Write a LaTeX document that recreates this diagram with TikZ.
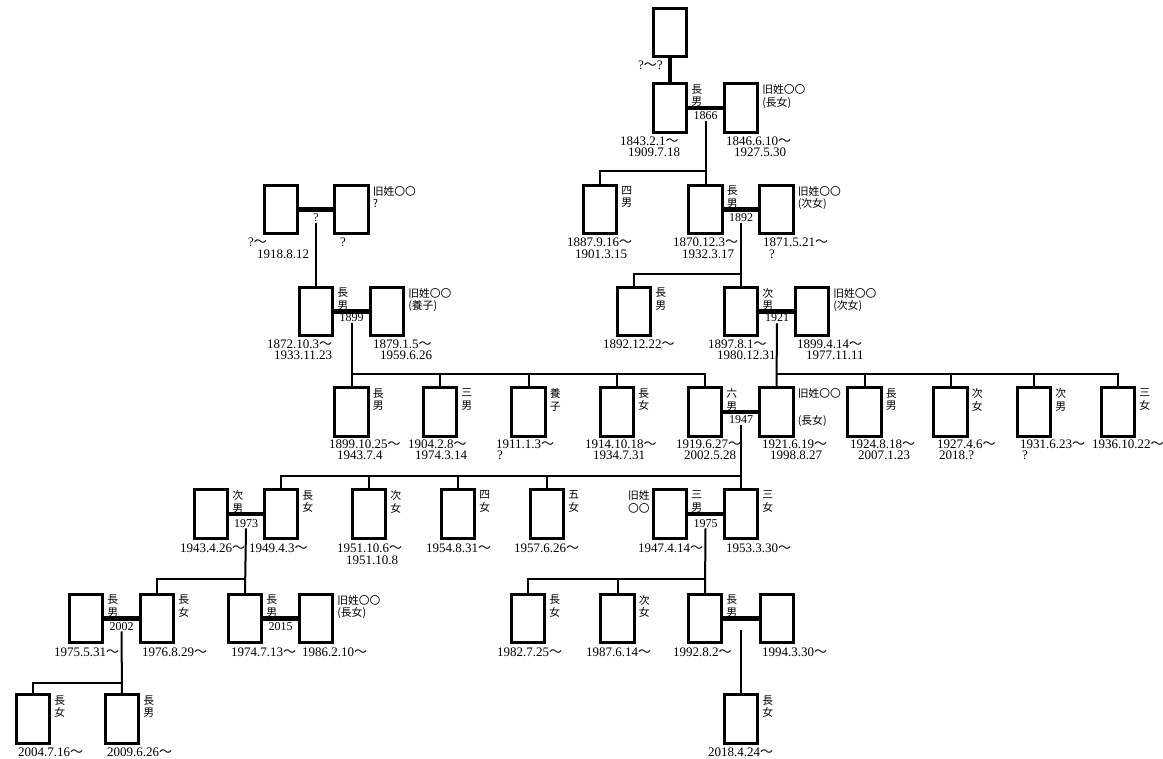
\documentclass[tikz,border=0pt]{standalone}
\usepackage{fontspec}
\setmainfont{Liberation Serif}
\newfontfamily\jp{Noto Sans CJK JP}
\newcommand\wave{{\jp ～}}
\tikzset{
 pbox/.style={draw, line width=2.8pt, minimum width=33.3pt, minimum height=48.3pt, inner sep=0pt},
 rel/.style={font={\jp\fontsize{10.8}{12.5}\selectfont}, align=left, inner sep=0pt, anchor=north west},
 dt/.style={font={\fontsize{13}{13}\selectfont}, inner sep=0pt, anchor=base west},
 yr/.style={font={\fontsize{12}{12}\selectfont}, inner sep=1pt, anchor=base},
 mar/.style={line width=4.5pt},
 ln/.style={line width=2pt},
}
\newcommand\pb[3]{\node[pbox] (#1) at (#2,#3) {};}
\newcommand\rl[2]{\node[rel] (#1r) at ([xshift=3pt,yshift=-2pt]#1.north east) {#2};}
\newcommand\dt[4]{\node[dt] (#1) at (#2,#3) {#4};}
\begin{document}
\begin{tikzpicture}[x=1pt,y=-1pt]
\useasboundingbox (0,0) rectangle (1163,759);
% ---- boxes ----
\pb{P0}{670}{32.5}
\pb{A1}{670}{108}\pb{W1}{741}{108}
\pb{L1}{281}{209.5}\pb{L2}{351.5}{209.5}
\pb{R4m}{600}{209.5}\pb{R1}{705.5}{209.5}\pb{RW1}{776.5}{209.5}
\pb{LA}{316}{311.5}\pb{LW}{387}{311.5}
\pb{RB1}{634}{311.5}\pb{RB2}{741}{311.5}\pb{RW2}{812}{311.5}
\pb{c1}{351.5}{412}\pb{c2}{440}{412}\pb{c3}{528.5}{412}\pb{c4}{617}{412}\pb{c5}{705}{412}
\pb{w5}{776.5}{412}\pb{s1}{864.5}{412}\pb{s2}{950.5}{412}\pb{s3}{1034}{412}\pb{s4}{1118}{412}
\pb{h6}{211}{514}\pb{d1}{281}{514}\pb{d2}{369}{514}\pb{d3}{458}{514}\pb{d4}{547}{514}
\pb{s6}{670}{514}\pb{d5}{741}{514}
\pb{g1}{86}{618.5}\pb{g2}{157}{618.5}\pb{g3}{245}{618.5}\pb{g3w}{316}{618.5}
\pb{g4}{528}{618.5}\pb{g5}{617.5}{618.5}\pb{g6}{705}{618.5}\pb{g6w}{777}{618.5}
\pb{h1}{33}{719}\pb{h2}{122}{719}\pb{h3}{741}{719}
% ---- relation labels ----
\rl{A1}{長\\男}\rl{W1}{旧姓〇〇\\(長女)}
\rl{R4m}{四\\男}\rl{R1}{長\\男}\rl{RW1}{旧姓〇〇\\(次女)}
\rl{L2}{旧姓〇〇\\?}
\rl{LA}{長\\男}\rl{LW}{旧姓〇〇\\(養子)}
\rl{RB1}{長\\男}\rl{RB2}{次\\男}\rl{RW2}{旧姓〇〇\\(次女)}
\rl{c1}{長\\男}\rl{c2}{三\\男}\rl{c3}{養\\子}\rl{c4}{長\\女}\rl{c5}{六\\男}
\rl{w5}{旧姓〇〇\\[14pt](長女)}
\rl{s1}{長\\男}\rl{s2}{次\\女}\rl{s3}{次\\男}\rl{s4}{三\\女}
\rl{h6}{次\\男}\rl{d1}{長\\女}\rl{d2}{次\\女}\rl{d3}{四\\女}\rl{d4}{五\\女}
\rl{s6}{三\\男}\rl{d5}{三\\女}
\node[rel, anchor=north east, align=right] (s6l) at ([xshift=-2pt,yshift=-2pt]s6.north west) {旧姓\\〇〇};
\rl{g1}{長\\男}\rl{g2}{長\\女}\rl{g3}{長\\男}\rl{g3w}{旧姓〇〇\\(長女)}
\rl{g4}{長\\女}\rl{g5}{次\\女}\rl{g6}{長\\男}
\rl{h1}{長\\女}\rl{h2}{長\\男}\rl{h3}{長\\女}
% ---- dates ----
\dt{P0a}{638}{70}{?\wave?}
\dt{A1a}{620}{146}{1843.2.1\wave}\dt{A1b}{628}{157}{1909.7.18}
\dt{W1a}{726}{146}{1846.6.10\wave}\dt{W1b}{734}{157}{1927.5.30}
\dt{L1a}{248}{247}{?\wave}\dt{L1b}{257}{258.5}{1918.8.12}
\dt{L2a}{340}{247}{?}
\dt{R4ma}{567}{247}{1887.9.16\wave}\dt{R4mb}{575}{258.5}{1901.3.15}
\dt{R1a}{673}{247}{1870.12.3\wave}\dt{R1b}{682}{258.5}{1932.3.17}
\dt{RW1a}{763}{247}{1871.5.21\wave}\dt{RW1b}{769}{258.5}{?}
\dt{LAa}{267}{348.5}{1872.10.3\wave}\dt{LAb}{274}{359.5}{1933.11.23}
\dt{LWa}{373}{348.5}{1879.1.5\wave}\dt{LWb}{380}{359.5}{1959.6.26}
\dt{RB1a}{603}{348.5}{1892.12.22\wave}
\dt{RB2a}{708}{348.5}{1897.8.1\wave}\dt{RB2b}{717}{359.5}{1980.12.31}
\dt{RW2a}{797}{348.5}{1899.4.14\wave}\dt{RW2b}{806}{359.5}{1977.11.11}
\dt{c1a}{329}{448.5}{1899.10.25\wave}\dt{c1b}{337}{459.5}{1943.7.4}
\dt{c2a}{408}{448.5}{1904.2.8\wave}\dt{c2b}{415}{459.5}{1974.3.14}
\dt{c3a}{496}{448.5}{1911.1.3\wave}\dt{c3b}{497}{459.5}{?}
\dt{c4a}{585}{448.5}{1914.10.18\wave}\dt{c4b}{593}{459.5}{1934.7.31}
\dt{c5a}{676}{448.5}{1919.6.27\wave}\dt{c5b}{684}{459.5}{2002.5.28}
\dt{w5a}{762}{448.5}{1921.6.19\wave}\dt{w5b}{770}{459.5}{1998.8.27}
\dt{s1a}{850}{448.5}{1924.8.18\wave}\dt{s1b}{858}{459.5}{2007.1.23}
\dt{s2a}{937}{448.5}{1927.4.6\wave}\dt{s2b}{939}{459.5}{2018.?}
\dt{s3a}{1020}{448.5}{1931.6.23\wave}\dt{s3b}{1022}{459.5}{?}
\dt{s4a}{1092}{448.5}{1936.10.22\wave}
\dt{h6a}{180}{552}{1943.4.26\wave}
\dt{d1a}{249}{552}{1949.4.3\wave}
\dt{d2a}{337}{552}{1951.10.6\wave}\dt{d2b}{346}{564}{1951.10.8}
\dt{d3a}{426}{552}{1954.8.31\wave}
\dt{d4a}{514}{552}{1957.6.26\wave}
\dt{s6a}{638}{552}{1947.4.14\wave}
\dt{d5a}{726}{552}{1953.3.30\wave}
\dt{g1a}{54}{656.5}{1975.5.31\wave}\dt{g2a}{142}{656.5}{1976.8.29\wave}
\dt{g3a}{231}{656.5}{1974.7.13\wave}\dt{g3wa}{302}{656.5}{1986.2.10\wave}
\dt{g4a}{497}{656.5}{1982.7.25\wave}\dt{g5a}{586}{656.5}{1987.6.14\wave}
\dt{g6a}{673}{656.5}{1992.8.2\wave}\dt{g6wa}{762}{656.5}{1994.3.30\wave}
\dt{h1a}{18}{756.5}{2004.7.16\wave}\dt{h2a}{107}{756.5}{2009.6.26\wave}
\dt{h3a}{708}{756.5}{2018.4.24\wave}
% ---- marriage years ----
\node[yr] (y1866) at (705.5,120) {1866};
\node[yr] (y1892) at (741,221.5) {1892};
\node[yr] (yq) at (316,222) {?};
\node[yr] (y1899) at (351.5,322) {1899};
\node[yr] (y1921) at (777,322) {1921};
\node[yr] (y1947) at (741,424) {1947};
\node[yr] (y1973) at (246,527) {1973};
\node[yr] (y1975) at (705.5,527) {1975};
\node[yr] (y2002) at (121.5,630) {2002};
\node[yr] (y2015) at (280.5,630) {2015};
\coordinate (y0) at (741,630);
% ---- junctions ----
\coordinate (j1) at (705.5,171);
\coordinate (j2) at (741,274);
\coordinate (j3) at (776.5,374);
\coordinate (j4) at (351.5,374);
\coordinate (j5) at (741,476);
\coordinate (j6) at (245,579);
\coordinate (j7) at (705,579);
\coordinate (j8) at (121.5,683);
% ---- marriages ----
\draw[line width=3.5pt] (P0.south) -- (A1.north);
\draw[mar] (A1.east) -- (W1.west);
\draw[mar] (L1.east) -- (L2.west);
\draw[mar] (R1.east) -- (RW1.west);
\draw[mar] (LA.east) -- (LW.west);
\draw[mar] (RB2.east) -- (RW2.west);
\draw[mar] (c5.east) -- (w5.west);
\draw[mar] (h6.east) -- (d1.west);
\draw[mar] (s6.east) -- (d5.west);
\draw[mar] (g1.east) -- (g2.west);
\draw[mar] (g3.east) -- (g3w.west);
\draw[mar] (g6.east) -- (g6w.west);
% ---- descent ----
\draw[ln] (y1866.south) -- (R1.north);
\draw[ln] (j1) -| (R4m.north);
\draw[ln] (y1892.south) -- (RB2.north);
\draw[ln] (j2) -| (RB1.north);
\draw[ln] (y1921.south) -- (w5.north);
\draw[ln] (j3) -| (s4.north);
\foreach \n in {s1,s2,s3} \draw[ln] (\n.north) -- (\n.north |- j3);
\draw[ln] (yq.south) -- (LA.north);
\draw[ln] (y1899.south) -- (c1.north);
\draw[ln] (j4) -| (c5.north);
\foreach \n in {c2,c3,c4} \draw[ln] (\n.north) -- (\n.north |- j4);
\draw[ln] (y1947.south) -- (d5.north);
\draw[ln] (j5) -| (d1.north);
\foreach \n in {d2,d3,d4} \draw[ln] (\n.north) -- (\n.north |- j5);
\draw[ln] (y1973.south) -- (g3.north);
\draw[ln] (j6) -| (g2.north);
\draw[ln] (y1975.south) -- (g6.north);
\draw[ln] (j7) -| (g4.north);
\draw[ln] (g5.north) -- (g5.north |- j7);
\draw[ln] (y2002.south) -- (h2.north);
\draw[ln] (j8) -| (h1.north);
\draw[ln] (y0) -- (h3.north);
\end{tikzpicture}
\end{document}
